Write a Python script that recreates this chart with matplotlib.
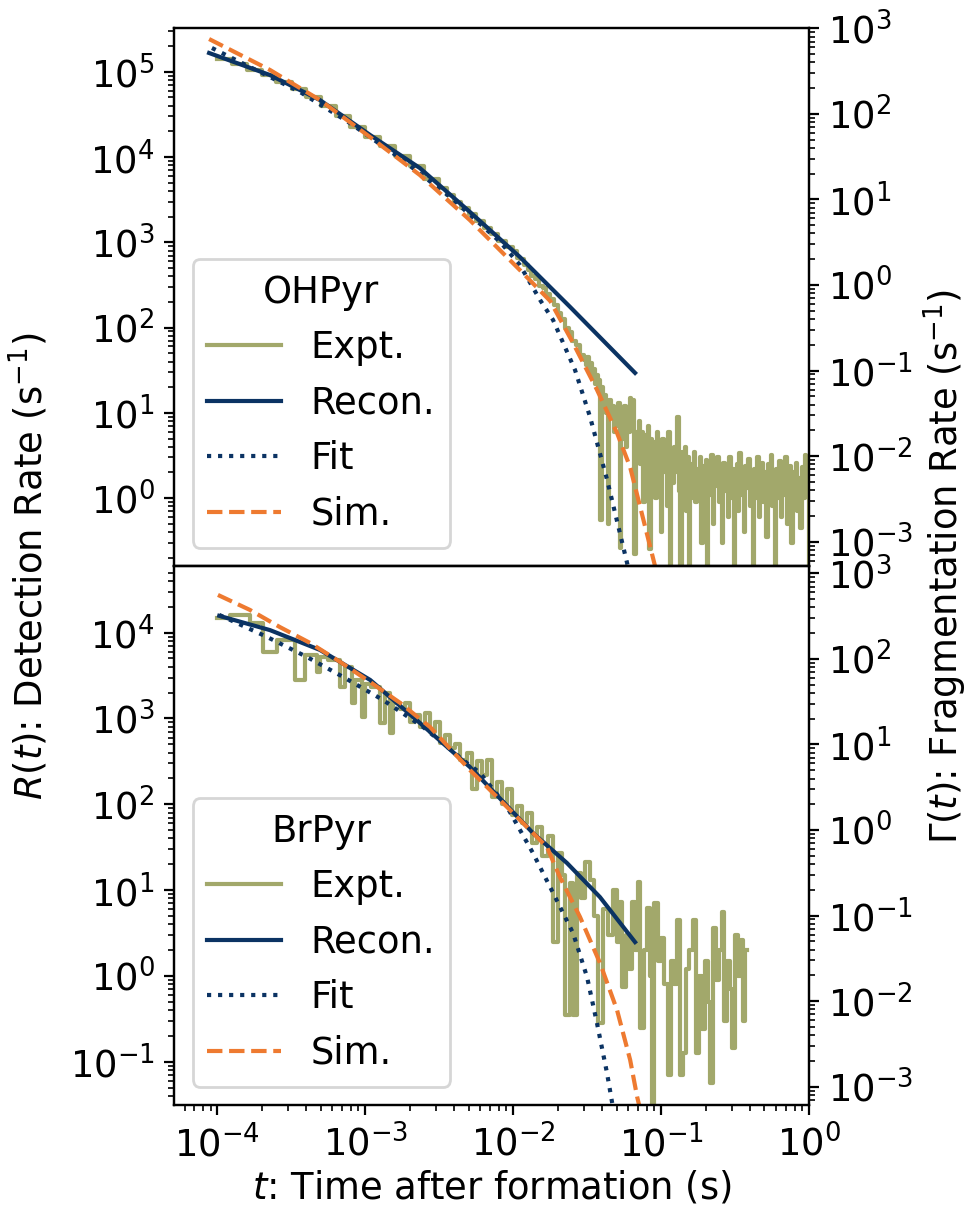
import matplotlib
matplotlib.use('Agg')
import matplotlib.pyplot as plt

plt.rcParams['font.size'] = 13.3

C_EXPT = '#a2a86b'
C_NAVY = '#0b3363'
C_SIM = '#ee7a30'

# ========================================================
# OHPyr (top panel), R(t) in s^-1, (t, R)
# ========================================================
oh_expt = [
    (1.0e-4, 1.42e5), (1.26e-4, 1.23e5), (1.58e-4, 1.06e5), (2.0e-4, 9.2e4),
    (2.5e-4, 7.6e4), (3.2e-4, 6.2e4), (4.0e-4, 5.1e4), (5.0e-4, 4.0e4),
    (6.3e-4, 3.0e4), (7.9e-4, 2.28e4), (1.0e-3, 1.73e4), (1.26e-3, 1.33e4),
    (1.58e-3, 1.02e4), (2.0e-3, 7.8e3), (2.5e-3, 5.6e3),
    (3.16e-3, 4.3e3), (3.55e-3, 3.6e3), (3.98e-3, 3.0e3), (4.47e-3, 2.55e3),
    (5.01e-3, 2.13e3), (5.62e-3, 1.78e3), (6.31e-3, 1.49e3), (7.08e-3, 1.25e3),
    (7.94e-3, 1.04e3), (8.91e-3, 870),
    (1.0e-2, 790), (1.06e-2, 660), (1.12e-2, 640), (1.19e-2, 540),
    (1.26e-2, 470), (1.33e-2, 400), (1.41e-2, 370), (1.50e-2, 310),
    (1.58e-2, 290), (1.68e-2, 250), (1.78e-2, 215), (1.88e-2, 185),
    (2.0e-2, 150), (2.11e-2, 125), (2.24e-2, 100), (2.37e-2, 88),
    (2.51e-2, 70), (2.66e-2, 62), (2.82e-2, 48),
    (0.0302, 42), (0.0309, 36), (0.0316, 45), (0.0324, 30), (0.0331, 38),
    (0.0339, 26), (0.0347, 33), (0.0355, 22), (0.0363, 28), (0.0372, 18),
    (0.0380, 24), (0.0389, 0.55), (0.0398, 20), (0.0407, 13), (0.0417, 16),
    (0.0427, 10), (0.0437, 0.5), (0.0447, 14), (0.0457, 9), (0.0468, 12),
    (0.0479, 6), (0.0490, 11), (0.0501, 7), (0.0513, 13), (0.0525, 0.26),
    (0.0537, 9), (0.0550, 5), (0.0562, 12), (0.0575, 4), (0.0589, 10),
    (0.0603, 6), (0.0617, 15), (0.0631, 7), (0.0646, 14), (0.0661, 0.22),
    (0.0676, 6), (0.0692, 3), (0.0708, 8), (0.0724, 2.5), (0.0741, 6),
    (0.0759, 0.9), (0.0776, 5.5), (0.0794, 2), (0.0813, 7), (0.0832, 0.25),
    (0.0851, 5), (0.0871, 2.2), (0.0891, 4.5), (0.0912, 1.0), (0.0933, 6),
    (0.0955, 1.8), (0.0977, 4), (0.100, 0.4), (0.102, 5), (0.105, 2),
    (0.107, 3.5), (0.110, 0.8), (0.112, 6), (0.115, 0.1), (0.117, 3),
    (0.120, 1.5), (0.123, 4), (0.126, 2), (0.129, 9), (0.132, 1.2),
    (0.135, 0.1), (0.138, 3.5), (0.141, 1.5), (0.145, 4), (0.148, 0.7),
    (0.151, 3), (0.155, 0.12), (0.158, 2.5), (0.162, 1.0), (0.166, 3.5),
    (0.170, 0.9), (0.174, 2.2), (0.178, 1.3), (0.182, 3), (0.186, 0.3),
    (0.191, 2.4), (0.195, 1.2), (0.200, 2.8), (0.204, 0.12), (0.209, 2.0),
    (0.214, 1.1), (0.219, 3.2), (0.224, 0.5), (0.229, 2.5), (0.234, 1.4),
    (0.240, 3.0), (0.245, 0.9), (0.251, 2.0), (0.257, 0.3), (0.263, 2.6),
    (0.269, 1.2), (0.275, 1.8), (0.282, 0.6), (0.288, 3.0), (0.295, 1.0),
    (0.302, 2.2), (0.309, 0.1), (0.316, 1.6), (0.324, 2.5), (0.331, 0.7),
    (0.339, 3.4), (0.347, 1.1), (0.355, 2.0), (0.363, 0.4), (0.372, 2.4),
    (0.380, 1.3), (0.389, 2.9), (0.398, 0.8), (0.407, 1.8), (0.417, 0.15),
    (0.427, 2.2), (0.437, 1.0), (0.447, 3.0), (0.457, 0.6), (0.468, 1.6),
    (0.479, 2.6), (0.490, 0.9), (0.501, 2.0), (0.513, 0.35), (0.525, 2.5),
    (0.537, 1.2), (0.550, 3.2), (0.562, 0.8), (0.575, 1.8), (0.589, 0.12),
    (0.603, 2.2), (0.617, 1.0), (0.631, 2.7), (0.646, 0.6), (0.661, 1.9),
    (0.676, 1.1), (0.692, 3.0), (0.708, 0.5), (0.724, 1.5), (0.741, 2.4),
    (0.759, 0.3), (0.776, 2.0), (0.794, 1.0), (0.813, 2.6), (0.832, 0.7),
    (0.851, 1.7), (0.871, 0.45), (0.891, 2.3), (0.912, 1.0), (0.933, 3.2),
    (0.955, 1.5), (0.977, 2.8), (1.00, 0.1), (1.02, 0.1),
]

oh_recon_t = [8.8e-5, 2.27e-4, 4.94e-4, 1.08e-3, 2.34e-3, 5.1e-3, 1.11e-2, 2.43e-2, 6.67e-2]
oh_recon_R = [1.66e5, 9.15e4, 4.66e4, 1.81e4, 7.43e3, 2.27e3, 673, 174, 29.4]

oh_fit_t = [9.2e-5, 1.95e-4, 3.63e-4, 7.89e-4, 1.72e-3, 3.75e-3, 8.17e-3, 1.11e-2,
            1.52e-2, 1.86e-2, 2.62e-2, 3.31e-2, 4.32e-2, 5.89e-2, 6.67e-2]
oh_fit_R = [1.9e5, 9.9e4, 5.78e4, 2.5e4, 9.7e3, 3.4e3, 1.01e3, 542,
            211, 123, 31.8, 8.95, 1.63, 0.174, 0.064]

oh_sim_t = [8.8e-5, 2.27e-4, 4.94e-4, 1.08e-3, 2.34e-3, 5.1e-3, 1.11e-2, 1.78e-2,
            2.54e-2, 3.69e-2, 5.04e-2, 6.18e-2, 7.22e-2, 9.1e-2, 0.106]
oh_sim_R = [2.42e5, 1.05e5, 4.66e4, 1.71e4, 6.15e3, 1.82e3, 473, 205,
            66, 18.6, 5.8, 2.3, 0.79, 0.16, 0.064]

# ========================================================
# BrPyr (bottom panel)
# ========================================================
br_expt = [
    (1.0e-4, 1.48e4), (1.22e-4, 1.6e4), (1.66e-4, 1.3e4), (2.04e-4, 6.0e3),
    (2.53e-4, 8.2e3), (3.35e-4, 2.8e3), (3.92e-4, 5.5e3), (4.72e-4, 3.5e3),
    (4.95e-4, 5.2e3), (5.6e-4, 4.8e3), (6.75e-4, 2.3e3), (7.3e-4, 4.0e3),
    (8.14e-4, 1.5e3), (8.53e-4, 2.8e3), (9.5e-4, 1.04e3), (1.0e-3, 2.5e3),
    (1.1e-3, 2.3e3), (1.26e-3, 890), (1.36e-3, 2.0e3), (1.47e-3, 680),
    (1.54e-3, 1.5e3), (1.72e-3, 1.3e3), (1.86e-3, 1.5e3), (2.01e-3, 900),
    (2.17e-3, 1.1e3), (2.35e-3, 800), (2.54e-3, 1.15e3), (2.74e-3, 700),
    (2.97e-3, 900), (3.21e-3, 520), (3.47e-3, 650), (3.75e-3, 450),
    (4.05e-3, 500), (4.38e-3, 330), (4.87e-3, 400), (5.27e-3, 150),
    (5.69e-3, 320), (6.15e-3, 220), (6.65e-3, 330), (7.19e-3, 120),
    (7.77e-3, 180), (8.40e-3, 100), (9.08e-3, 150), (9.81e-3, 75),
    (1.06e-2, 95), (1.15e-2, 60), (1.24e-2, 80), (1.34e-2, 35),
    (1.45e-2, 55), (1.56e-2, 25), (1.71e-2, 43), (1.86e-2, 2.5),
    (2.01e-2, 27), (2.14e-2, 15), (2.24e-2, 0.35), (2.43e-2, 12),
    (2.54e-2, 0.35), (2.71e-2, 16), (2.88e-2, 8), (3.07e-2, 21),
    (3.31e-2, 13), (3.52e-2, 5), (3.74e-2, 0.28), (4.03e-2, 6),
    (4.36e-2, 3), (4.71e-2, 10), (5.0e-2, 2.5), (5.24e-2, 7.2),
    (5.41e-2, 0.74), (5.76e-2, 3), (6.04e-2, 1.2), (6.34e-2, 7.2),
    (6.64e-2, 2.0), (6.96e-2, 12.5), (7.18e-2, 0.25), (7.65e-2, 2.0),
    (8.02e-2, 6.2), (8.41e-2, 1.0), (8.68e-2, 0.03), (8.95e-2, 7),
    (9.52e-2, 1.5), (9.97e-2, 2.8), (0.1045, 0.8), (0.111, 0.07),
    (0.1166, 1.5), (0.122, 0.8), (0.128, 4.5), (0.134, 0.07),
    (0.141, 0.125), (0.147, 1.2), (0.155, 2.0), (0.164, 4.5),
    (0.172, 0.125), (0.180, 1.0), (0.189, 0.24), (0.198, 1.5),
    (0.208, 0.5), (0.214, 0.056), (0.225, 3.6), (0.236, 0.9),
    (0.247, 2.0), (0.259, 5.6), (0.267, 0.3), (0.280, 1.5),
    (0.294, 0.7), (0.303, 0.145), (0.318, 3.0), (0.333, 1.0),
    (0.349, 2.6), (0.360, 0.3), (0.371, 2.0), (0.383, 2.0),
]

br_recon_t = [1.03e-4, 2.27e-4, 4.94e-4, 1.08e-3, 2.34e-3, 5.1e-3, 6.97e-3, 1.36e-2, 2.31e-2, 3.86e-2, 6.67e-2]
br_recon_R = [1.57e4, 1.07e4, 6.29e3, 2.81e3, 887, 272, 155, 46.3, 20.7, 8.3, 2.48]

br_fit_t = [1.03e-4, 2.17e-4, 4.04e-4, 7.08e-4, 1.32e-3, 2.46e-3, 4.58e-3, 5.97e-3,
            9.1e-3, 1.36e-2, 1.86e-2, 2.54e-2, 3.16e-2, 3.69e-2, 4.31e-2, 4.89e-2]
br_fit_R = [1.61e4, 8.9e3, 5.2e3, 3.05e3, 1.64e3, 796, 329, 232,
            93, 27.1, 9.3, 3.16, 0.97, 0.28, 0.074, 0.021]

br_sim_t = [1.01e-4, 1.66e-4, 2.65e-4, 4.24e-4, 6.76e-4, 1.08e-3, 1.72e-3, 2.74e-3,
            5.1e-3, 6.97e-3, 1.11e-2, 1.69e-2, 2.07e-2, 2.83e-2, 3.86e-2, 5.04e-2,
            6.18e-2, 6.89e-2, 7.8e-2]
br_sim_R = [2.75e4, 1.84e4, 1.16e4, 7.58e3, 4.56e3, 2.66e3, 1.52e3, 796,
            251, 147, 65.8, 31.9, 14.2, 4.87, 1.42, 0.40,
            0.105, 0.039, 0.016]

# ========================================================
# Plot
# ========================================================
fig = plt.figure(figsize=(4.835, 6.03), dpi=200)
ax_top = fig.add_axes([0.180, 0.5307, 0.6566, 0.4458])
ax_bot = fig.add_axes([0.180, 0.0837, 0.6566, 0.4470], sharex=ax_top)


def draw_panel(ax, name, expt, recon, fit, sim, ylim, ylim_right):
    t_e, R_e = zip(*expt)
    ax.plot(t_e, R_e, color=C_EXPT, lw=1.5, drawstyle='steps-post', label='Expt.')
    ax.plot(*recon, color=C_NAVY, lw=1.5, label='Recon.')
    ax.plot(*fit, color=C_NAVY, lw=1.5, ls=':', label='Fit')
    ax.plot(*sim, color=C_SIM, lw=1.5, ls='--', label='Sim.')
    ax.set_xscale('log')
    ax.set_yscale('log')
    ax.set_xlim(5.1e-5, 1.0)
    ax.set_ylim(*ylim)
    ax.legend(title=name, loc='lower left', title_fontsize=13.3)
    ax2 = ax.twinx()
    ax2.set_yscale('log')
    ax2.set_ylim(*ylim_right)
    return ax2


draw_panel(ax_top, 'OHPyr', oh_expt, (oh_recon_t, oh_recon_R),
           (oh_fit_t, oh_fit_R), (oh_sim_t, oh_sim_R), (0.16, 3.23e5), (5.2e-4, 1.0e3))
draw_panel(ax_bot, 'BrPyr', br_expt, (br_recon_t, br_recon_R),
           (br_fit_t, br_fit_R), (br_sim_t, br_sim_R), (0.0313, 5.98e4), (6.1e-4, 1.22e3))

ax_top.tick_params(axis='x', labelbottom=False)
ax_bot.set_xticks([1e-4, 1e-3, 1e-2, 1e-1, 1e0])
ax_bot.set_xlabel('$t$: Time after formation (s)', labelpad=2)

fig.text(0.029, 0.530, '$R(t)$: Detection Rate (s$^{-1}$)', rotation=90,
         ha='center', va='center')
fig.text(0.977, 0.530, r'$\Gamma(t)$: Fragmentation Rate (s$^{-1}$)', rotation=90,
         ha='center', va='center')

plt.savefig('out.png', dpi=200)
